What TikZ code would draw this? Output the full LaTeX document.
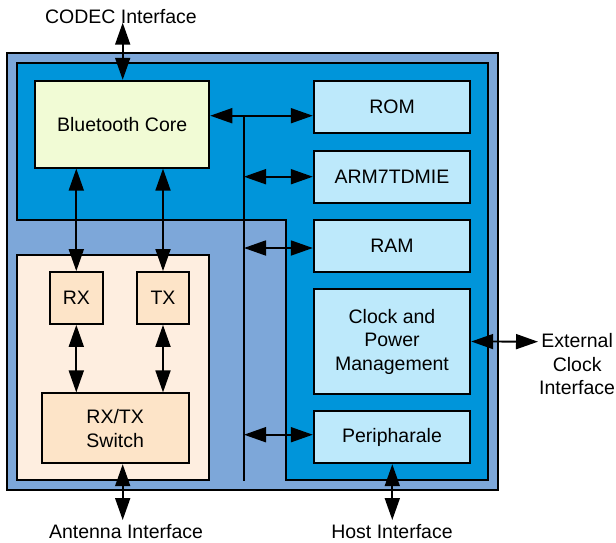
\documentclass[tikz,border=0pt]{standalone}
\usepackage{fontspec}
\setmainfont{Liberation Sans}
\usetikzlibrary{arrows.meta}
\definecolor{chipbg}{HTML}{7DA7D9}
\definecolor{corebg}{HTML}{0095DA}
\definecolor{memfill}{HTML}{BDE9FB}
\definecolor{btfill}{HTML}{F1FBD5}
\definecolor{rffill}{HTML}{FEEEE0}
\definecolor{rxfill}{HTML}{FDE4C8}
\tikzset{
  blk/.style={draw=black, line width=1.8pt, inner sep=0pt, align=center,
    font=\fontsize{19.5}{23.5}\selectfont},
  mem/.style={blk, fill=memfill, minimum width=156.6pt},
  rf/.style={blk, fill=rxfill},
  lbl/.style={inner sep=0pt, align=center, font=\fontsize{19.5}{23.5}\selectfont},
  link/.style={line width=1.8pt, {Triangle[length=22pt,width=15pt]}-{Triangle[length=22pt,width=15pt]}},
  wire/.style={line width=1.8pt}
}
\begin{document}
\begin{tikzpicture}[x=1pt,y=-1pt]
\useasboundingbox (0,0) rectangle (616,542);
% chip outline and the core region
\draw[fill=chipbg, line width=1.8pt] (7.3,53.3) rectangle (498.3,490);
\draw[fill=corebg, line width=1.8pt] (17.3,63.3) -- (488,63.3) -- (488,480) -- (286,480)
  -- (286,220) -- (17.3,220) -- cycle;
% radio section
\draw[fill=rffill, line width=1.8pt] (17.3,254.7) rectangle (209.3,480);

% blocks
\node[blk, fill=btfill, minimum width=174.3pt, minimum height=87pt] (bt) at (122.2,124.2) {Bluetooth Core};
\node[mem, minimum height=52pt] (rom) at (392,106.7) {ROM};
\node[mem, minimum height=52pt] (arm) at (392,176.7) {ARM7TDMIE};
\node[mem, minimum height=52pt] (ram) at (392,246) {RAM};
\node[mem, minimum height=104.4pt] (clk) at (392,341.5) {Clock and\\Power\\Management};
\node[mem, minimum height=52.6pt] (per) at (392,437) {Peripharale};
\node[rf, minimum width=52.7pt, minimum height=52pt] (rx) at (76.3,298) {RX};
\node[rf, minimum width=52.7pt, minimum height=52pt] (tx) at (163,298) {TX};
\node[rf, minimum width=147pt, minimum height=70pt] (sw) at (115.2,428.3) {RX/TX\\Switch};

% external interface ends and labels
\coordinate (codec) at (122.7,22.7);
\coordinate (ant) at (122.7,520);
\coordinate (host) at (392.3,520);
\coordinate (ext) at (538,341.7);
\node[lbl] (codecl) at (121,17) {CODEC Interface};
\node[lbl] (antl) at (126,532) {Antenna Interface};
\node[lbl] (hostl) at (392,532) {Host Interface};
\node[lbl, anchor=west] (extl) at (539,364.5) {External\\Clock\\Interface};

% internal bus
\coordinate (bustop) at (244,115.7);
\coordinate (busbot) at (244,480.7);
\draw[wire] (bustop) -- (busbot);

% connectors
\draw[link] (bt.east |- bustop) -- (rom.west |- bustop);
\draw[link] (bustop |- arm.west) -- (arm.west);
\draw[link] ([yshift=-2pt]bustop |- ram.west) -- ([yshift=-2pt]ram.west);
\draw[link] ([yshift=2.3pt]bustop |- per.west) -- ([yshift=2.3pt]per.west);
\draw[link] (bt.south -| rx) -- (rx.north);
\draw[link] (bt.south -| tx) -- (tx.north);
\draw[link] (rx.south) -- (sw.north -| rx);
\draw[link] (tx.south) -- (sw.north -| tx);
\draw[link] (codec) -- (bt.north -| codec);
\draw[link] (sw.south -| ant) -- (ant);
\draw[link] (per.south -| host) -- (host);
\draw[link] (clk.east) -- (ext);
\end{tikzpicture}
\end{document}
